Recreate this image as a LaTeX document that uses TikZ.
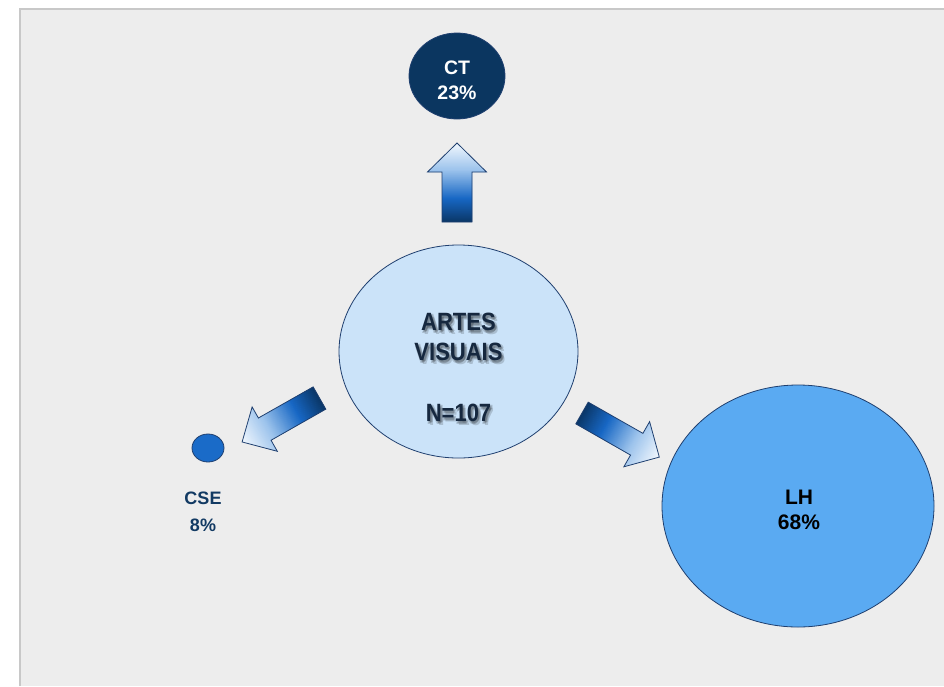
\documentclass[tikz,border=0pt]{standalone}
\usepackage{fontspec}
\setmainfont{Liberation Sans}
\newfontfamily\condsans{Liberation Sans}[FakeStretch=0.88]
\usetikzlibrary{shapes.geometric}
\definecolor{panel}{HTML}{EDEDED}
\definecolor{panelborder}{HTML}{C8C8C8}
\definecolor{navy}{HTML}{0B3660}
\definecolor{outl}{HTML}{1F3F6F}
\definecolor{centerfill}{HTML}{CBE3F9}
\definecolor{csefill}{HTML}{1A6BC8}
\definecolor{lhfill}{HTML}{5AAAF2}
\definecolor{textnavy}{HTML}{123A63}
\definecolor{centertext}{HTML}{16283F}
\definecolor{arlight}{HTML}{F2F8FE}
\definecolor{arpale}{HTML}{9CC3EC}
\definecolor{armid}{HTML}{1767C4}
\definecolor{ardark}{HTML}{0A3666}
% block arrow: #1 tail centre, #2 direction angle, #3 length (integer), #4 shaft half width, #5 head half width, #6 head length
\newcommand\blockarr[6]{%
  \begin{scope}[shift={(#1)}, rotate=#2]
    \pgfmathsetmacro\hb{#3-#6}
    \begin{scope}
      \clip (0,-#4) -- (\hb,-#4) -- (\hb,-#5) -- (#3,0) -- (\hb,#5) -- (\hb,#4) -- (0,#4) -- cycle;
      \foreach \i in {0,...,#3}{
        \pgfmathsetmacro\tt{\i/#3}
        \ifdim\tt pt<0.3pt
          \pgfmathtruncatemacro\pp{\tt/0.3*100}
          \fill[armid!\pp!ardark] (\i-0.6,-#5-2) rectangle (\i+1,#5+2);
        \else\ifdim\tt pt<0.66pt
          \pgfmathtruncatemacro\pp{(\tt-0.3)/0.36*100}
          \fill[arpale!\pp!armid] (\i-0.6,-#5-2) rectangle (\i+1,#5+2);
        \else
          \pgfmathtruncatemacro\pp{min(100,(\tt-0.66)/0.34*100)}
          \fill[arlight!\pp!arpale] (\i-0.6,-#5-2) rectangle (\i+1,#5+2);
        \fi\fi
      }
    \end{scope}
    \draw[outl, line width=0.8pt, line join=miter] (0,-#4) -- (\hb,-#4) -- (\hb,-#5) -- (#3,0) -- (\hb,#5) -- (\hb,#4) -- (0,#4) -- cycle;
  \end{scope}}
\tikzset{
  bubble/.style={ellipse, draw=outl, line width=0.8pt, inner sep=0pt},
  ctlabel/.style={anchor=base, text=white, font=\fontsize{19.5}{24}\selectfont\bfseries, inner sep=0pt},
  lhlabel/.style={anchor=base, text=black, font=\fontsize{21}{25}\selectfont\bfseries, inner sep=0pt},
  cselabel/.style={anchor=base, text=textnavy, font=\fontsize{18}{22}\selectfont\bfseries, inner sep=0pt},
  centerlabel/.style={anchor=base, text=centertext, font=\condsans\fontsize{25}{28}\selectfont\bfseries, inner sep=0pt},
  centershadow/.style={anchor=base, text=black, opacity=0.16, font=\condsans\fontsize{25}{28}\selectfont\bfseries, inner sep=0pt},
}
\begin{document}
\begin{tikzpicture}[x=1pt,y=-1pt]
\useasboundingbox (0,0) rectangle (944,686);
\fill[white] (0,0) rectangle (944,686);
\fill[panel] (20,9) rectangle (944,686);
\draw[panelborder, line width=1.5pt] (20,686) -- (20,9) -- (944,9);

% bubbles
\node[bubble, fill=navy, minimum width=96pt, minimum height=86pt] (ct) at (457,76) {};
\node[bubble, fill=centerfill, minimum width=239pt, minimum height=213pt] (av) at (458.5,351.5) {};
\node[bubble, fill=csefill, minimum width=32pt, minimum height=28pt] (cse) at (208,448) {};
\node[bubble, fill=lhfill, minimum width=272pt, minimum height=242pt] (lh) at (798,506) {};

% block arrows
\blockarr{457,222}{90}{79}{15}{29.5}{29}
\blockarr{319.5,398}{209.6}{89}{12.8}{25.5}{26}
\blockarr{582,413}{330.3}{89}{12.5}{26}{26}

% labels
\node[ctlabel] (ct1) at (457,74) {CT};
\node[ctlabel] (ct2) at (457,99) {23\%};

\foreach \dx/\dy in {1.5/2, 3/3.5, 2.5/1, 0.5/3}{
  \node[centershadow] at (458.5+\dx,330.5+\dy) {ARTES};
  \node[centershadow] at (458.5+\dx,360.5+\dy) {VISUAIS};
  \node[centershadow] at (458.5+\dx,421.5+\dy) {N=107};
}
\node[centerlabel] (av1) at (458.5,330.5) {ARTES};
\node[centerlabel] (av2) at (458.5,360.5) {VISUAIS};
\node[centerlabel] (av3) at (458.5,421.5) {N=107};

\node[cselabel] (cse1) at (203,504.5) {CSE};
\node[cselabel] (cse2) at (203,531.5) {8\%};

\node[lhlabel] (lh1) at (799,504.5) {LH};
\node[lhlabel] (lh2) at (799,529.5) {68\%};
\end{tikzpicture}
\end{document}
